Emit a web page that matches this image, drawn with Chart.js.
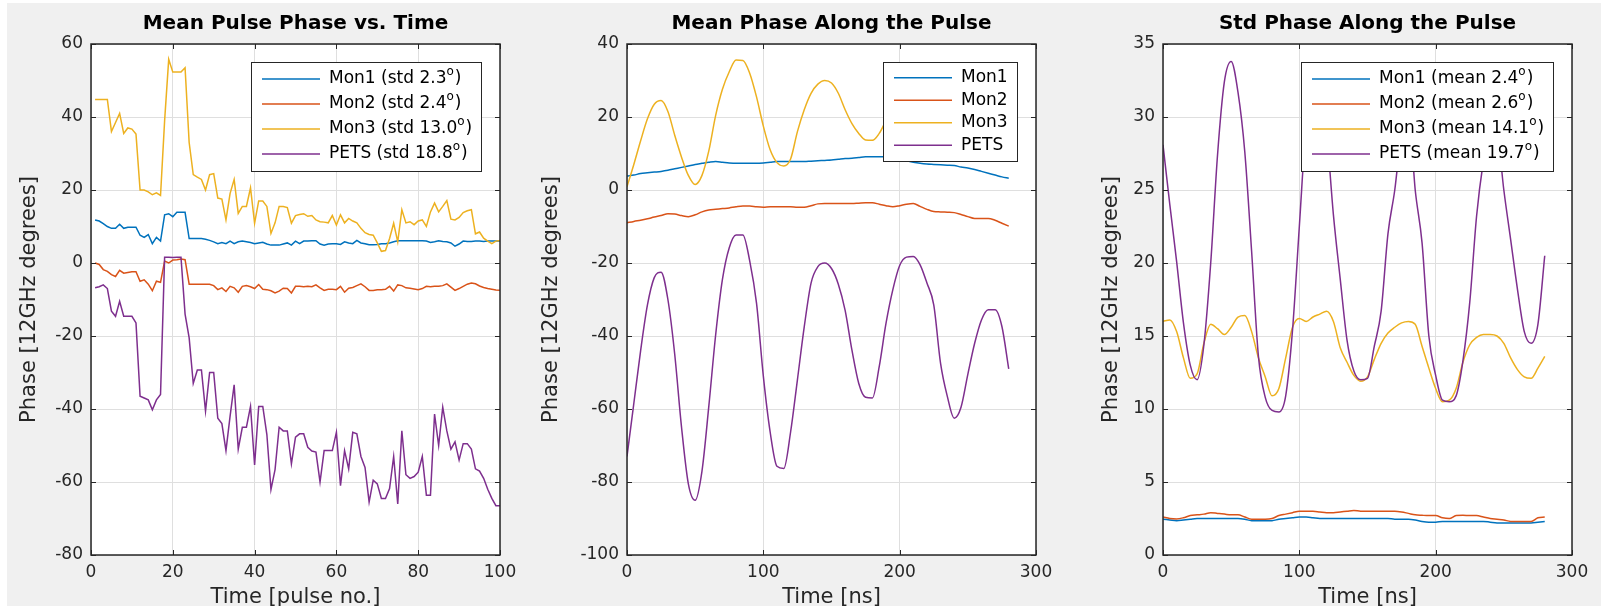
<!DOCTYPE html>
<html>
<head>
<meta charset="utf-8">
<title>Pulse phase</title>
<script src="https://cdn.jsdelivr.net/npm/chart.js@4.4.1/dist/chart.umd.min.js"></script>
<style>
  body { margin: 0; width: 1601px; height: 610px; overflow: hidden; position: relative; background: #fff; }
  #fig { position: absolute; left: 7px; top: 3px; width: 1594px; height: 603px; background: #f0f0f0; }
  canvas { position: absolute; top: 0; }
  #edge { position: absolute; left: 0; top: 606px; width: 1601px; height: 4px; background: #fff; z-index: 5; }
</style>
</head>
<body>
<div id="fig"></div>
<canvas id="c1" width="530" height="610" style="left:0px"></canvas>
<canvas id="c2" width="530" height="610" style="left:536px"></canvas>
<canvas id="c3" width="530" height="610" style="left:1072px"></canvas>
<div id="edge"></div>
<script>
// ---- data ----

// panel 1: mean pulse phase per pulse
const pulseNo = [1,2,3,4,5,6,7,8,9,10,11,12,13,14,15,16,17,18,19,20,
  21,22,23,24,25,26,27,28,29,30,31,32,33,34,35,36,37,38,39,40,
  41,42,43,44,45,46,47,48,49,50,51,52,53,54,55,56,57,58,59,60,
  61,62,63,64,65,66,67,68,69,70,71,72,73,74,75,76,77,78,79,80,
  81,82,83,84,85,86,87,88,89,90,91,92,93,94,95,96,97,98,99,100]

const mon1Pulse = [11.8,11.5,10.8,10,9.5,9.5,10.6,9.5,9.8,9.8,
  9.8,7.6,7,7.8,5.3,7,6,13.2,13.5,12.7,
  13.9,13.9,13.9,6.7,6.7,6.7,6.7,6.5,6.2,5.8,
  5.3,5.6,5.3,6,5.3,5.8,6,5.8,5.6,5.3,
  5.5,5.7,5.2,4.9,4.9,4.9,5.2,5.5,4.9,6,
  5.3,6,6,6.1,6.1,5.2,4.9,5.2,5.3,5.3,
  5.1,5.8,5.5,5.3,6.2,5.5,5.3,5,5,5.1,
  5.3,5.3,5.5,5.8,6.1,6.1,6.1,6.1,6.1,6.1,
  6.1,6,5.6,5.8,6.1,5.9,5.8,5.5,4.6,5.2,
  6,5.9,5.9,6,6,5.9,6,6,6,6]

const mon2Pulse = [0,-0.4,-1.8,-2.3,-3.2,-3.7,-2,-2.8,-2.6,-2.4,
  -2.4,-5,-4.6,-5.8,-7.6,-5,-5.3,0.5,0,0.8,
  0.9,1.1,0.9,-5.8,-5.8,-5.8,-5.8,-5.8,-5.8,-6.2,
  -7.3,-6.8,-7.8,-6.4,-6.8,-8,-6.4,-6.2,-6.5,-7,
  -5.9,-7.2,-7.3,-7.6,-8.2,-7.7,-6.9,-7,-8.2,-6.4,
  -6.4,-6.5,-6.4,-6.5,-6,-6.8,-7.5,-7.2,-7.2,-7.3,
  -6.4,-8,-6.9,-6.7,-6.2,-5.7,-6.5,-7.5,-7.5,-7.3,
  -7.3,-7.2,-6.4,-7.7,-6,-6.2,-6.8,-6.9,-7.1,-7.3,
  -7,-6.4,-6.5,-6.4,-6.4,-6.2,-5.7,-6.6,-7.5,-7,
  -6.4,-5.8,-5.5,-5.7,-6.3,-6.7,-7,-7.2,-7.4,-7.5]

const mon3Pulse = [44.8,44.8,44.8,44.8,36,38.5,41,35.5,37,36.7,
  35.3,20,20,19.5,18.7,19.2,18.5,39,55.8,52.3,
  52.3,52.3,53.5,33,24.2,23.5,22.9,20,24.2,24.5,
  17.8,17.5,11.8,19,22.9,13.6,15.5,15.5,20.6,10.9,
  17,17,15.5,8.1,11,15.5,15.5,15.2,10.9,13,
  13.3,13.5,12.8,13,11.8,11.3,11.2,11,13,10.4,
  13.2,11,12.2,11.5,11,9.5,8.3,7.8,7.6,5.5,
  3.2,3.4,6.7,10.9,5.8,14.6,11,11.3,10.5,11.5,
  11.8,10,14,16.4,14,15.5,17.1,12,11.8,12.5,
  13.8,14.3,14.6,8,8.5,6.8,6,5.3,6,6.2]

const petsPulse = [-6.8,-6.5,-6,-7,-13.2,-14.6,-10.5,-14.6,-14.6,-14.6,
  -16.4,-36.5,-37,-37.5,-40.2,-37.5,-36,1.6,1.6,1.5,
  1.6,1.6,-14,-20.5,-33,-29.3,-29.3,-40.6,-30,-30,
  -42.5,-44,-51.4,-42,-33.4,-51,-45,-45,-39.3,-55.3,
  -39.3,-39.3,-47,-62.1,-56.6,-45,-46,-46,-55,-47.7,
  -46.8,-46.8,-50.5,-51.5,-51.8,-60,-51.4,-51.4,-51.4,-46.4,
  -61,-51.4,-56.4,-46.4,-46.8,-53,-56,-65.5,-59.5,-60.5,
  -64.5,-64.5,-61.8,-53,-66,-46,-58,-59,-58.5,-57.3,
  -53,-63.6,-63.6,-41.4,-50,-39.5,-46,-51,-49,-54,
  -49.5,-49.5,-51,-56.4,-57,-59,-62,-64.5,-66.5,-66.5]

// panels 2 and 3: along the pulse, every 5 ns
const timeNs = [0,5,10,15,20,25,30,35,40,45,50,55,60,65,70,75,80,85,90,95,
  100,105,110,115,120,125,130,135,140,145,150,155,160,165,170,175,180,185,190,195,
  200,205,210,215,220,225,230,235,240,245,250,255,260,265,270,275,280]

const mon1Mean = [3.8,4.1,4.5,4.7,4.9,5.1,5.4,5.8,6.2,6.6,
  7,7.3,7.6,7.8,7.6,7.4,7.3,7.3,7.3,7.3,
  7.4,7.6,7.8,7.8,7.8,7.8,7.8,7.9,8,8.1,
  8.2,8.4,8.6,8.7,8.9,9.1,9.1,9.1,9.1,8.9,
  8.5,8,7.6,7.3,7.1,7,6.9,6.8,6.7,6.3,
  6,5.6,5.1,4.6,4.1,3.6,3.2]

const mon2Mean = [-9,-8.6,-8.3,-7.9,-7.4,-7,-6.5,-6.6,-7,-7.3,
  -6.8,-6,-5.5,-5.3,-5.1,-4.9,-4.6,-4.4,-4.4,-4.6,
  -4.7,-4.6,-4.6,-4.6,-4.6,-4.7,-4.7,-4.3,-3.8,-3.7,
  -3.7,-3.7,-3.7,-3.7,-3.6,-3.5,-3.5,-3.9,-4.3,-4.6,
  -4.3,-3.9,-3.7,-4.5,-5.3,-5.9,-6,-6.1,-6.2,-6.7,
  -7.3,-7.8,-7.8,-7.8,-8.3,-9.1,-9.9]

const mon3Mean = [0.9,7,13.5,19.5,23.5,24.5,21.5,15,9,4,
  1.5,4,10.7,20.4,27.6,32.4,35.6,35.5,32,25.5,
  17.5,11,7.5,6.6,8.5,16,22,26.5,29,30,
  29.3,26.5,22,18.2,15.5,13.7,13.6,15.5,19,22,
  24,24.5,23,20,16.5,14,13,13.5,15,17.5,
  20,22,23,22.5,20.5,18,15.5]

const petsMean = [-73,-58.5,-44,-31.5,-24,-22.5,-30,-45,-65,-80.5,
  -85,-77,-59.3,-39.8,-24.5,-15.8,-12.3,-12.3,-19.4,-31,
  -51,-66.3,-75.7,-76.3,-66.3,-52,-37.5,-25.5,-21,-20,
  -21.5,-25.8,-33,-43.9,-53,-56.8,-57,-48.4,-36.5,-27.3,
  -20.7,-18.4,-18.2,-20.5,-25.5,-31.5,-47.5,-56.6,-62.5,-59.5,
  -50.5,-42,-35.6,-32.8,-32.8,-37.4,-49]

const mon1Std = [2.45,2.4,2.35,2.4,2.45,2.5,2.5,2.5,2.5,2.5,
  2.5,2.5,2.45,2.35,2.35,2.35,2.35,2.45,2.5,2.55,
  2.6,2.6,2.55,2.5,2.5,2.5,2.5,2.5,2.5,2.5,
  2.5,2.5,2.5,2.5,2.45,2.45,2.45,2.4,2.3,2.25,
  2.25,2.3,2.3,2.3,2.3,2.3,2.3,2.3,2.25,2.2,
  2.2,2.2,2.2,2.2,2.2,2.25,2.3]

const mon2Std = [2.6,2.5,2.47,2.55,2.7,2.75,2.8,2.9,2.85,2.8,
  2.75,2.75,2.6,2.45,2.45,2.45,2.5,2.7,2.8,2.9,
  3,3,3,2.95,2.9,2.9,2.95,3,3.05,3,
  3,3,3,3,3,2.95,2.85,2.75,2.72,2.7,
  2.7,2.55,2.5,2.7,2.72,2.7,2.7,2.6,2.5,2.45,
  2.4,2.3,2.3,2.3,2.3,2.55,2.6]

const mon3Std = [16,16.1,15.3,13.5,12.1,12.4,14.5,15.8,15.5,15.1,
  15.6,16.3,16.4,15.3,13.5,12.2,10.9,11.4,13.5,15.6,
  16.2,16,16.3,16.5,16.7,16,14.2,13.2,12.3,11.9,
  12.2,13.4,14.5,15.2,15.6,15.9,16,15.8,14.3,12.8,
  11.4,10.5,10.6,11.4,13.2,14.4,14.9,15.1,15.1,15,
  14.5,13.5,12.7,12.2,12.1,12.8,13.6]

const petsStd = [28.1,24,20.1,15.9,13,12,14.4,20,27.4,32.4,
  33.8,31.7,27.6,20.8,13.6,10.8,9.9,9.8,10.9,15.4,
  22.5,29.5,32.5,32.5,29,23.3,18.9,14.7,12.6,12,
  12.1,14.3,16.7,22,25,29,30.5,25,21.4,15,
  12.3,10.6,10.5,10.9,13.3,17.3,23.2,27,29.5,29,
  25,21.6,18.2,15.3,14.5,15.8,20.5]

const pulseLabels = ['Mon1 (std 2.3°)', 'Mon2 (std 2.4°)', 'Mon3 (std 13.0°)', 'PETS (std 18.8°)']
const meanLabels = ['Mon1', 'Mon2', 'Mon3', 'PETS']
const stdLabels = ['Mon1 (mean 2.4°)', 'Mon2 (mean 2.6°)', 'Mon3 (mean 14.1°)', 'PETS (mean 19.7°)']

// matlab default line colours
const lineColors = ['#0072BD', '#D95319', '#EDB120', '#7E2F8E']

const fontName = '"DejaVu Sans", "Liberation Sans", sans-serif'
const axisGray = '#262626'

// draws the white axes, the box with inward ticks, and the matlab style legend
const matlabAxes = {
  id: 'matlabAxes',
  beforeDraw(chart) {
    const ctx = chart.ctx, a = chart.chartArea
    ctx.save()
    ctx.fillStyle = '#fff'
    ctx.fillRect(a.left, a.top, a.right - a.left, a.bottom - a.top)
    ctx.restore()
  },
  afterDatasetsDraw(chart, args, opts) {
    const ctx = chart.ctx, a = chart.chartArea
    const xs = chart.scales.x, ys = chart.scales.y
    ctx.save()

    drawLegend(chart, opts)

    ctx.strokeStyle = axisGray
    ctx.lineWidth = 1
    ctx.beginPath()
    xs.ticks.forEach(t => {
      const px = Math.round(xs.getPixelForValue(t.value)) + 0.5
      ctx.moveTo(px, a.bottom); ctx.lineTo(px, a.bottom - 5)
      ctx.moveTo(px, a.top); ctx.lineTo(px, a.top + 5)
    })
    ys.ticks.forEach(t => {
      const py = Math.round(ys.getPixelForValue(t.value)) + 0.5
      ctx.moveTo(a.left, py); ctx.lineTo(a.left + 5, py)
      ctx.moveTo(a.right, py); ctx.lineTo(a.right - 5, py)
    })
    ctx.stroke()

    ctx.lineWidth = 1.5
    ctx.strokeRect(a.left, a.top, a.right - a.left, a.bottom - a.top)
    ctx.restore()
  }
}

function labelWidth(ctx, text) {
  const parts = text.split('°')
  ctx.font = '17px ' + fontName
  let w = ctx.measureText(parts[0]).width
  if (parts.length > 1) {
    ctx.font = '12px ' + fontName
    w += ctx.measureText('o').width + 1
    ctx.font = '17px ' + fontName
    w += ctx.measureText(parts[1]).width
  }
  return w
}

function drawLabel(ctx, text, x, y) {
  const parts = text.split('°')
  ctx.fillStyle = '#000'
  ctx.textAlign = 'left'
  ctx.textBaseline = 'middle'
  ctx.font = '17px ' + fontName
  ctx.fillText(parts[0], x, y)
  if (parts.length > 1) {
    x += ctx.measureText(parts[0]).width
    ctx.font = '12px ' + fontName
    ctx.fillText('o', x, y - 7)
    x += ctx.measureText('o').width + 1
    ctx.font = '17px ' + fontName
    ctx.fillText(parts[1], x, y)
  }
}

function drawLegend(chart, opts) {
  const ctx = chart.ctx, a = chart.chartArea
  const sets = chart.data.datasets
  let maxW = 0
  for (ds of sets) maxW = Math.max(maxW, labelWidth(ctx, ds.label))
  const rowH = opts.rowHeight
  const w = Math.round(78 + maxW + 9)
  const h = Math.round(sets.length * rowH + 9)
  const x0 = Math.round(a.right - 19 - w)
  const y0 = Math.round(a.top + 18)

  ctx.fillStyle = '#fff'
  ctx.fillRect(x0, y0, w, h)
  ctx.strokeStyle = axisGray
  ctx.lineWidth = 1
  ctx.strokeRect(x0 + 0.5, y0 + 0.5, w, h)

  sets.forEach((ds, i) => {
    const cy = y0 + 4.5 + rowH * (i + 0.5)
    ctx.strokeStyle = ds.borderColor
    ctx.lineWidth = 1.5
    ctx.beginPath()
    ctx.moveTo(x0 + 11, cy)
    ctx.lineTo(x0 + 69, cy)
    ctx.stroke()
    drawLabel(ctx, ds.label, x0 + 78, cy)
  })
}

function makeSets(xs, series, labels, smooth) {
  return series.map((ys, i) => ({
    label: labels[i],
    data: xs.map((x, j) => ({ x: x, y: ys[j] })),
    borderColor: lineColors[i],
    backgroundColor: lineColors[i],
    borderWidth: 1.5,
    pointRadius: 0,
    fill: false,
    cubicInterpolationMode: smooth ? 'monotone' : 'default',
    tension: 0,
    order: series.length - i   // last series on top, like matlab
  }))
}

function makeChart(id, title, xTitle, sets, xr, yr, yTitlePad, rowH) {
  return new Chart(document.getElementById(id), {
    type: 'line',
    data: { datasets: sets },
    plugins: [matlabAxes],
    options: {
      responsive: false,
      animation: false,
      devicePixelRatio: 1,
      layout: { padding: { left: 0, right: 30, top: 0, bottom: 0 } },
      plugins: {
        legend: { display: false },
        tooltip: { enabled: false },
        title: {
          display: true,
          text: title,
          fullSize: false,
          color: '#000',
          font: { family: fontName, size: 20, weight: 'bold', lineHeight: 1.2 },
          padding: { top: 12, bottom: 8 }
        },
        matlabAxes: { rowHeight: rowH }
      },
      scales: {
        x: {
          type: 'linear',
          min: xr[0], max: xr[1],
          afterFit: s => { s.height = 55 },
          border: { display: false },
          grid: { color: '#dfdfdf', drawTicks: false },
          ticks: { stepSize: xr[2], padding: 7, color: axisGray, maxRotation: 0, autoSkip: false,
                   font: { family: fontName, size: 17 } },
          title: { display: true, text: xTitle, color: axisGray, padding: { top: 0, bottom: 0 },
                   font: { family: fontName, size: 21, lineHeight: 1.2 } }
        },
        y: {
          min: yr[0], max: yr[1],
          afterFit: s => { s.width = 91 },
          border: { display: false },
          grid: { color: '#dfdfdf', drawTicks: false },
          ticks: { stepSize: yr[2], padding: 8, color: axisGray, autoSkip: false,
                   font: { family: fontName, size: 17 } },
          title: { display: true, text: 'Phase [12GHz degrees]', color: axisGray,
                   padding: { top: yTitlePad, bottom: 0 },
                   font: { family: fontName, size: 21, lineHeight: 1.2 } }
        }
      }
    }
  })
}

makeChart('c1', 'Mean Pulse Phase vs. Time', 'Time [pulse no.]',
  makeSets(pulseNo, [mon1Pulse, mon2Pulse, mon3Pulse, petsPulse], pulseLabels, false),
  [0, 100, 20], [-80, 60, 20], 17.4, 25)

makeChart('c2', 'Mean Phase Along the Pulse', 'Time [ns]',
  makeSets(timeNs, [mon1Mean, mon2Mean, mon3Mean, petsMean], meanLabels, true),
  [0, 300, 100], [-100, 40, 20], 3.4, 22.5)

makeChart('c3', 'Std Phase Along the Pulse', 'Time [ns]',
  makeSets(timeNs, [mon1Std, mon2Std, mon3Std, petsStd], stdLabels, true),
  [0, 300, 100], [0, 35, 5], 27.4, 25)
</script>
</body>
</html>
